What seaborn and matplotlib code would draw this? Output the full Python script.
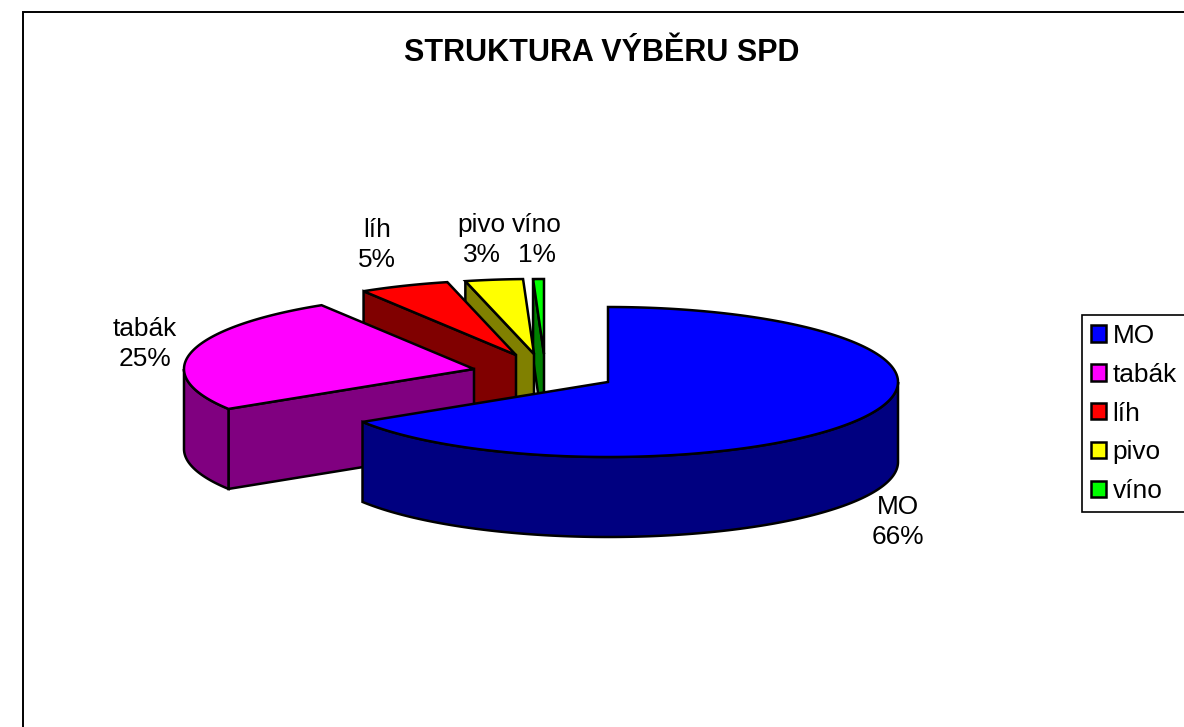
import numpy as np
import matplotlib
import matplotlib.pyplot as plt
from matplotlib.patches import Polygon, Rectangle
import seaborn as sns
matplotlib.use('Agg')

title = 'STRUKTURA VÝBĚRU SPD'
categories = ['MO', 'tabák', 'líh', 'pivo', 'víno']
values = [66.0, 25.1, 5.0, 3.2, 0.6]
top_colors = ['#0000ff', '#ff00ff', '#ff0000', '#ffff00', '#00ff00']
side_colors = ['#000080', '#800080', '#800000', '#808000', '#008000']

# pixel layout of the fake 3d pie
rx, ry, depth = 290, 75, 80
apex = [(608, 382), (474, 369), (516, 355), (534, 354), (544, 354)]
label_pos = [(898, 522), (145, 344), (377, 245), (481.5, 240), (537, 240)]


def arc(center, a0, a1, drop=0):
    t = np.radians(np.linspace(a0, a1, 200))
    return np.column_stack([center[0] + rx * np.sin(t), center[1] - ry * np.cos(t) + drop])


def draw_slice(ax, center, a0, a1, top, side):
    lw = 1.8
    # cut face on the starting edge, faces the viewer only on the left half
    if 180 < a0 < 360:
        p = arc(center, a0, a0)[0]
        face = [p, center, (center[0], center[1] + depth), (p[0], p[1] + depth)]
        ax.add_patch(Polygon(face, fc=side, ec='black', lw=lw, joinstyle='miter'))
    # outer wall, only the front half of the rim
    w0, w1 = max(a0, 90), min(a1, 270)
    if w0 < w1:
        wall = np.vstack([arc(center, w0, w1), arc(center, w1, w0, depth)])
        ax.add_patch(Polygon(wall, fc=side, ec='black', lw=lw, joinstyle='miter'))
    pts = np.vstack([[center], arc(center, a0, a1)])
    ax.add_patch(Polygon(pts, fc=top, ec='black', lw=lw, joinstyle='miter'))


def main():
    sns.set_theme(style='white')
    plt.rcParams['font.family'] = ['Liberation Sans', 'DejaVu Sans']
    palette = sns.color_palette(top_colors)

    fig, ax = plt.subplots(figsize=(11.84, 7.27), dpi=100)
    fig.subplots_adjust(0, 0, 1, 1)
    ax.set_xlim(0, 1184)
    ax.set_ylim(727, 0)
    ax.axis('off')

    # chart area border runs off the right and bottom of the picture
    ax.add_patch(Rectangle((22.5, 11.5), 1300, 800, fc='white', ec='black', lw=1.4))

    shares = np.array(values) / sum(values)
    edges = np.concatenate([[0], np.cumsum(shares) * 360])

    # back slices first, MO goes on top
    for i in range(len(categories) - 1, -1, -1):
        draw_slice(ax, apex[i], edges[i], edges[i + 1], palette[i], side_colors[i])

    for i, name in enumerate(categories):
        ax.text(label_pos[i][0], label_pos[i][1], f'{name}\n{values[i]:.0f}%', ha='center', va='center',
                fontsize=18.9, color='black', linespacing=1.33)

    ax.text(602, 53, title, ha='center', va='center', fontsize=22, fontweight='bold', color='black')

    handles = [Rectangle((0, 0), 1, 1, fc=palette[i], ec='black', lw=1.8) for i in range(len(categories))]
    leg = ax.legend(handles, categories, loc='upper left', bbox_to_anchor=(1082, 315),
                    bbox_transform=ax.transData, borderaxespad=0, frameon=True, fancybox=False,
                    edgecolor='black', framealpha=1, fontsize=18.9, handlelength=0.58, handleheight=0.58,
                    handletextpad=0.25, labelspacing=0.565, borderpad=0.34, labelcolor='black')
    leg.get_frame().set_linewidth(1.2)

    fig.savefig('out.png', dpi=100)


if __name__ == '__main__':
    main()
